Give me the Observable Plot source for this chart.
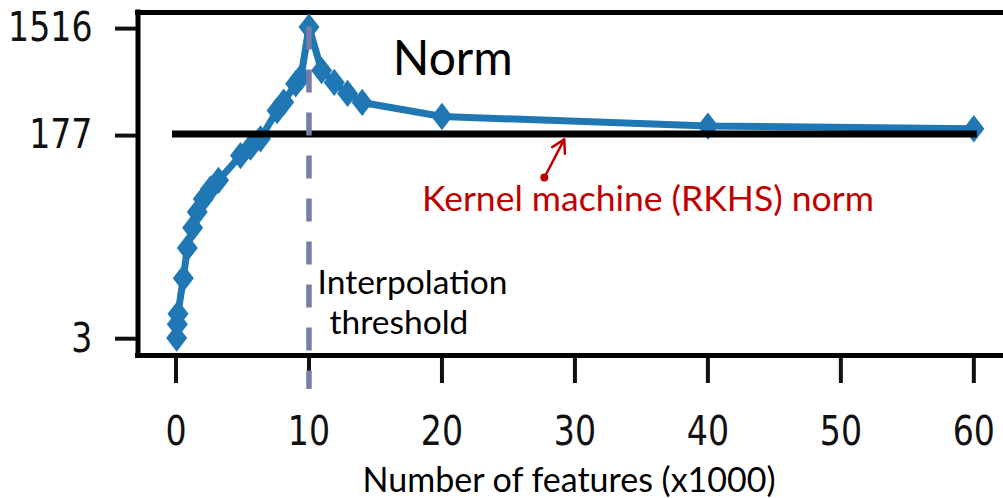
<!DOCTYPE html>
<html>
<head>
<meta charset="utf-8">
<script src="https://cdn.jsdelivr.net/npm/d3@7"></script>
<script src="https://cdn.jsdelivr.net/npm/@observablehq/plot@0.6"></script>
<style>
  html, body { margin: 0; padding: 0; background: #fff; }
</style>
</head>
<body>
<div id="chart"></div>
<script>
// ---- data ----
const features = [0.05, 0.1, 0.15, 0.55, 0.85, 1.25, 1.6, 2.05, 2.6, 3.2, 4.85, 5.6, 6.35, 7.6, 8.1, 9.0, 9.4, 10, 10.95, 11.9, 12.9, 14, 20, 40, 60];
const norms    = [2.95, 3.9, 4.8, 9.8, 18, 27, 37, 48, 59, 70, 115, 136, 161, 284, 336, 486, 555, 1516, 634, 499, 400, 334, 252, 208, 197];
const kernelNorm = 177;
const kernelRange = [0, 60];
const threshold = 10;
const xTicks = [0, 10, 20, 30, 40, 50, 60];
const yTicks = [3, 177, 1516];
const xLabel = "Number of features (x1000)";
const titleText = "Norm";
const thresholdLines = ["Interpolation", "threshold"];
const kernelLabel = "Kernel machine (RKHS) norm";

const xDomain = [-2.858, 62.23];
const yDomain = [2.078, 2032];

const data = features.map((x, i) => ({x, y: norms[i]}));

const blue = "#1f77b4";
const red = "#c00000";
const dashColor = "#767ea6";
const gill = "Lato, 'Open Sans', sans-serif";

// diamond marker, a bit taller than wide (like the reference)
const diamond = {
  draw(ctx, size) {
    const r = Math.sqrt(size / Math.PI);
    const h = r * 1.3;
    ctx.moveTo(0, -h); ctx.lineTo(r, 0); ctx.lineTo(0, h); ctx.lineTo(-r, 0); ctx.closePath();
  }
};

const svg = Plot.plot({
  width: 1003,
  height: 498,
  marginLeft: 137.5,
  marginRight: 0,
  marginTop: 12,
  marginBottom: 143,
  x: {domain: xDomain},
  y: {type: "log", domain: yDomain},
  style: {background: "white", fontFamily: "'DejaVu Sans', sans-serif", overflow: "visible"},
  marks: [
    Plot.axisY(yTicks, {tickSize: 22.5, tickPadding: 23, fontSize: 40, strokeWidth: 4, dy: 1.5, tickFormat: d => String(d), label: null, color: "#111"}),
    Plot.axisX(xTicks, {tickSize: 28, tickPadding: 33, fontSize: 40, strokeWidth: 4, tickFormat: d => String(d), label: null, color: "#111"}),
    // spines (left, top, bottom)
    Plot.ruleX([xDomain[0]], {stroke: "#000", strokeWidth: 5, strokeLinecap: "square"}),
    Plot.ruleY([yDomain[1]], {stroke: "#000", strokeWidth: 5, strokeLinecap: "square"}),
    Plot.ruleY([yDomain[0]], {stroke: "#000", strokeWidth: 5, strokeLinecap: "square"}),
    // series
    Plot.line(data, {x: "x", y: "y", stroke: blue, strokeWidth: 7, strokeLinejoin: "round"}),
    Plot.dot(data, {x: "x", y: "y", symbol: diamond, r: 10.5, fill: blue, stroke: null}),
    // kernel machine norm
    Plot.ruleY([kernelNorm], {x1: kernelRange[0], x2: kernelRange[1], stroke: "#000", strokeWidth: 7, strokeLinecap: "square"}),
    // interpolation threshold
    Plot.ruleX([threshold], {y1: d3.max(norms), y2: yDomain[0], insetBottom: -34, stroke: dashColor, strokeWidth: 5.5, strokeDasharray: "23,20"}),
    // annotations
    Plot.text([titleText], {x: 16.3, y: 574, text: d => d, textAnchor: "start", lineAnchor: "bottom", fontSize: 48, fontFamily: gill, fill: "#000"}),
    Plot.text([thresholdLines[0]], {x: 10.65, y: 7.2, text: d => d, textAnchor: "start", lineAnchor: "bottom", fontSize: 33.5, fontFamily: gill, fill: "#000"}),
    Plot.text([thresholdLines[1]], {x: 11.55, y: 3.23, text: d => d, textAnchor: "start", lineAnchor: "bottom", fontSize: 33.5, fontFamily: gill, fill: "#000"}),
    Plot.arrow([kernelNorm], {x1: 27.7, y1: 74, x2: 29.2, y2: 159, stroke: red, strokeWidth: 2.5, headLength: 9}),
    Plot.dot([kernelNorm], {x: 27.7, y: 74, r: 4, fill: red, stroke: null}),
    Plot.text([kernelLabel], {x: 18.5, y: 37.5, text: d => d, textAnchor: "start", lineAnchor: "bottom", fontSize: 35.5, fontFamily: gill, fill: red}),
    Plot.text([xLabel], {x: 29.56, frameAnchor: "bottom", dy: 136, text: d => d, textAnchor: "middle", lineAnchor: "bottom", fontSize: 34, fontFamily: gill, fill: "#000"})
  ]
});

// tick labels in the reference are horizontally condensed
svg.querySelectorAll('g[aria-label="y-axis tick label"] text, g[aria-label="x-axis tick label"] text').forEach(t => {
  t.setAttribute("transform", (t.getAttribute("transform") || "") + " scale(0.83,1)");
});

document.getElementById("chart").appendChild(svg);
</script>
</body>
</html>
